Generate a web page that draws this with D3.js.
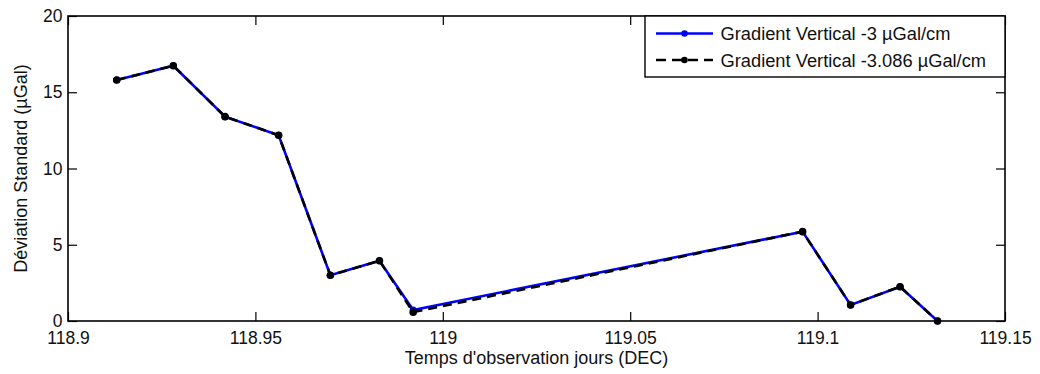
<!DOCTYPE html>
<html>
<head>
<meta charset="utf-8">
<script src="https://cdn.jsdelivr.net/npm/d3@7"></script>
<style>
  body { margin: 0; background: #fff; }
  svg { display: block; font-family: "Liberation Sans", Arial, sans-serif; }
</style>
</head>
<body>
<div id="chart"></div>
<script>
const width = 1040
const height = 374
const margin = { top: 16, right: 35, bottom: 53, left: 68 }

// Données
const jours = [118.913, 118.9281, 118.9419, 118.9562, 118.970, 118.9831, 118.9921, 119.096, 119.1088, 119.122, 119.132]
const gradient3 = [15.8, 16.74, 13.4, 12.18, 3.0, 3.95, 0.72, 5.86, 1.05, 2.25, 0.0]
const gradient3086 = [15.8, 16.74, 13.4, 12.18, 3.0, 3.95, 0.58, 5.86, 1.05, 2.25, 0.0]
const seriesNames = ["Gradient Vertical -3 µGal/cm", "Gradient Vertical -3.086 µGal/cm"]
const xTicks = [118.9, 118.95, 119, 119.05, 119.1, 119.15]
const yTicks = [0, 5, 10, 15, 20]

const svg = d3.select("#chart").append("svg")
  .attr("width", width)
  .attr("height", height)

const w = width - margin.left - margin.right
const h = height - margin.top - margin.bottom

const g = svg.append("g").attr("transform", `translate(${margin.left},${margin.top})`)

const x = d3.scaleLinear().domain([118.9, 119.15]).range([0, w])
const y = d3.scaleLinear().domain([0, 20]).range([h, 0])

// Axes (ticks vers l'intérieur)
const tickLen = 9
g.append("g").attr("transform", `translate(0,${h})`)
  .call(d3.axisBottom(x).tickValues(xTicks).tickFormat(d3.format("")).tickSizeInner(-tickLen).tickSizeOuter(0).tickPadding(10.5))
g.append("g")
  .call(d3.axisTop(x).tickValues(xTicks).tickFormat("").tickSizeInner(-tickLen).tickSizeOuter(0))
g.append("g")
  .call(d3.axisLeft(y).tickValues(yTicks).tickSizeInner(-tickLen).tickSizeOuter(0).tickPadding(5.5))
g.append("g").attr("transform", `translate(${w},0)`)
  .call(d3.axisRight(y).tickValues(yTicks).tickFormat("").tickSizeInner(-tickLen).tickSizeOuter(0))

g.selectAll(".domain").remove()
g.selectAll(".tick line").attr("stroke", "#000").attr("stroke-width", 1.2)
g.selectAll(".tick text").attr("font-size", 17.5).attr("fill", "#111")

g.append("rect")
  .attr("width", w).attr("height", h)
  .attr("fill", "none").attr("stroke", "#000").attr("stroke-width", 1.6)

// Courbes
const line = d3.line().x(d => x(d[0])).y(d => y(d[1]))
const data1 = jours.map((d, i) => [d, gradient3[i]])
const data2 = jours.map((d, i) => [d, gradient3086[i]])

g.append("path").datum(data1)
  .attr("fill", "none").attr("stroke", "#0000ff").attr("stroke-width", 2.6)
  .attr("d", line)
g.selectAll(".pt1").data(data1).join("circle")
  .attr("cx", d => x(d[0])).attr("cy", d => y(d[1])).attr("r", 3.5).attr("fill", "#0000ff")

g.append("path").datum(data2)
  .attr("fill", "none").attr("stroke", "#000").attr("stroke-width", 2.6)
  .attr("stroke-dasharray", "9,6")
  .attr("d", line)
g.selectAll(".pt2").data(data2).join("circle")
  .attr("cx", d => x(d[0])).attr("cy", d => y(d[1])).attr("r", 3.8).attr("fill", "#000")

// Légende
const lg = g.append("g").attr("transform", `translate(${w - 360},0)`)
lg.append("rect").attr("width", 360).attr("height", 61)
  .attr("fill", "#fff").attr("stroke", "#000").attr("stroke-width", 1.4)
const styles = [
  { color: "#0000ff", dash: null },
  { color: "#000", dash: "10,6" }
]
seriesNames.forEach((name, i) => {
  const yy = 17.5 + i * 26.5
  lg.append("line").attr("x1", 11).attr("x2", 68).attr("y1", yy).attr("y2", yy)
    .attr("stroke", styles[i].color).attr("stroke-width", 2.6)
    .attr("stroke-dasharray", styles[i].dash)
  lg.append("circle").attr("cx", 39.5).attr("cy", yy).attr("r", 3.3).attr("fill", styles[i].color)
  lg.append("text").attr("x", 75.5).attr("y", yy + 6.5)
    .attr("font-size", 18.3).attr("fill", "#111").text(name)
})

// Titres des axes
svg.append("text")
  .attr("x", margin.left + w / 2).attr("y", 364)
  .attr("text-anchor", "middle").attr("font-size", 18).attr("fill", "#111")
  .text("Temps d'observation jours (DEC)")
svg.append("text")
  .attr("transform", `translate(27,${margin.top + h / 2}) rotate(-90)`)
  .attr("text-anchor", "middle").attr("font-size", 18).attr("fill", "#111")
  .text("Déviation Standard (µGal)")
</script>
</body>
</html>
